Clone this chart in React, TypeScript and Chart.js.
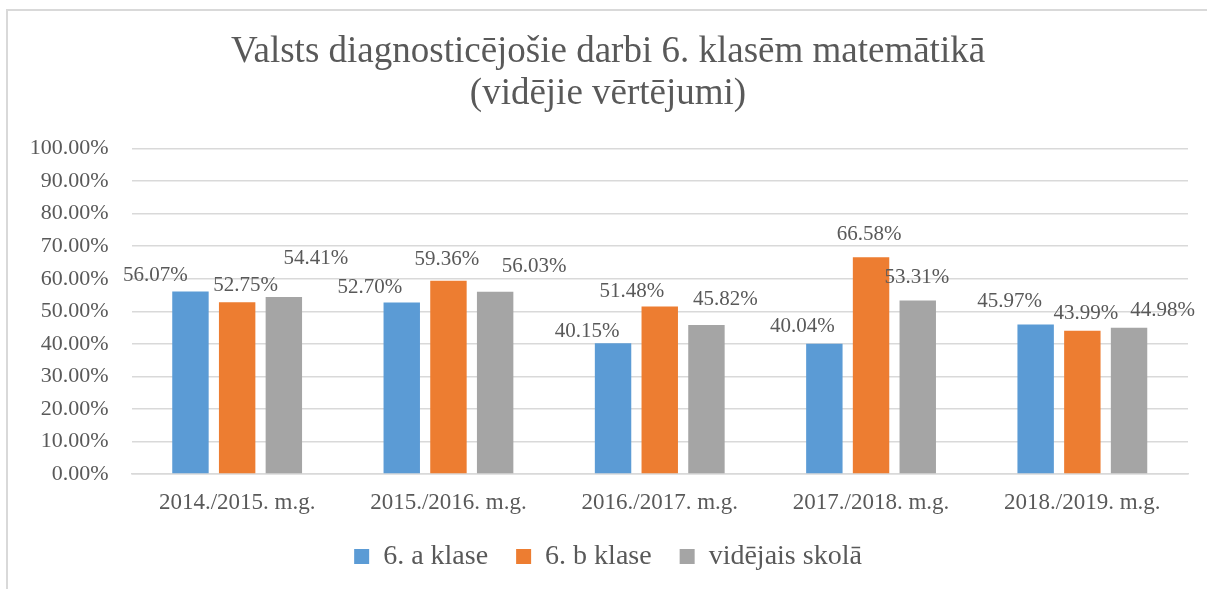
import React, { useEffect, useRef } from "react";
import { Chart, registerables } from "chart.js";

Chart.register(...registerables);

// ---- data ----
const categories = [
  "2014./2015. m.g.",
  "2015./2016. m.g.",
  "2016./2017. m.g.",
  "2017./2018. m.g.",
  "2018./2019. m.g.",
];
const seriesNames = ["6. a klase", "6. b klase", "vidējais skolā"];
const classA = [56.07, 52.7, 40.15, 40.04, 45.97];
const classB = [52.75, 59.36, 51.48, 66.58, 43.99];
const schoolAvg = [54.41, 56.03, 45.82, 53.31, 44.98];
const yMin = 0;
const yMax = 100;
const yStep = 10;
const titleLines = ["Valsts diagnosticējošie darbi 6. klasēm matemātikā", "(vidējie vērtējumi)"];

// ---- styles / layout ----
const COLORS = ["#5B9BD5", "#ED7D31", "#A5A5A5"];
const TEXT = "#595959";
const GRID = "#d9d9d9";
const FONT = "'Liberation Serif', 'Times New Roman', serif";
// label nudges relative to bar top centre (px), as placed in the original
const LABEL_NUDGE = [
  [[-35, -16], [-32, -15], [-26, -12], [-22, -17], [-26, -23]],
  [[8.5, -17], [-1.5, -21], [-28, -15], [-2, -23], [3.5, -17]],
  [[32, -38], [39, -25], [19, -25], [-1, -23], [33.5, -17]],
];

const fmt = (v: number) => v.toFixed(2) + "%";

const valueLabels = {
  id: "valueLabels",
  afterDatasetsDraw(chart: any) {
    const ctx = chart.ctx;
    ctx.save();
    ctx.font = `21px ${FONT}`;
    ctx.fillStyle = TEXT;
    ctx.textAlign = "center";
    ctx.textBaseline = "middle";
    chart.data.datasets.forEach((ds: any, i: number) => {
      const meta = chart.getDatasetMeta(i);
      meta.data.forEach((bar: any, j: number) => {
        const [dx, dy] = LABEL_NUDGE[i][j];
        ctx.fillText(fmt(ds.data[j]), bar.x + dx, bar.y + dy);
      });
    });
    ctx.restore();
  },
};

export default function App() {
  const ref = useRef<HTMLCanvasElement | null>(null);

  useEffect(() => {
    if (!ref.current) return;
    Chart.defaults.color = TEXT;
    Chart.defaults.font.family = FONT;
    const chart = new Chart(ref.current, {
      type: "bar",
      data: {
        labels: categories,
        datasets: [classA, classB, schoolAvg].map((d, i) => ({
          label: seriesNames[i],
          data: d,
          backgroundColor: COLORS[i],
          borderWidth: 0,
          categoryPercentage: 0.663,
          barPercentage: 0.78,
        })),
      },
      options: {
        responsive: false,
        animation: false,
        layout: { padding: { top: 31, left: 28, right: 19, bottom: 8.5 } },
        plugins: {
          tooltip: { enabled: false },
          title: {
            display: true,
            text: titleLines,
            color: TEXT,
            font: { family: FONT, size: 37, weight: "normal", lineHeight: 1.143 },
            padding: { top: 0, bottom: 33 },
          },
          legend: {
            position: "bottom",
            labels: {
              color: TEXT,
              font: { family: FONT, size: 28 },
              boxWidth: 15,
              boxHeight: 15,
              padding: 28,
            },
          },
        },
        scales: {
          x: {
            grid: { display: false, drawTicks: false },
            border: { display: true, color: GRID, width: 1.5 },
            ticks: { color: TEXT, font: { family: FONT, size: 23 }, padding: 15 },
            afterFit: (s: any) => {
              s.height = 40.5;
            },
          },
          y: {
            min: yMin,
            max: yMax,
            grid: { color: GRID, lineWidth: 1.5, drawTicks: false },
            border: { display: false },
            ticks: {
              stepSize: yStep,
              color: TEXT,
              font: { family: FONT, size: 22 },
              padding: 23,
              callback: (v: any) => fmt(Number(v)),
            },
            afterFit: (s: any) => {
              s.width = 103.5;
            },
          },
        },
      },
      plugins: [valueLabels],
    });
    return () => chart.destroy();
  }, []);

  return (
    <div style={{ position: "fixed", left: 0, top: 0, width: 1207, height: 589, background: "#fff", overflow: "hidden" }}>
      <div
        style={{
          position: "absolute",
          left: 6,
          top: 9,
          right: -10,
          bottom: -10,
          borderLeft: "2px solid #d9d9d9",
          borderTop: "2px solid #d9d9d9",
        }}
      />
      <canvas ref={ref} width={1207} height={589} style={{ position: "absolute", left: 0, top: 0, width: 1207, height: 589 }} />
    </div>
  );
}
